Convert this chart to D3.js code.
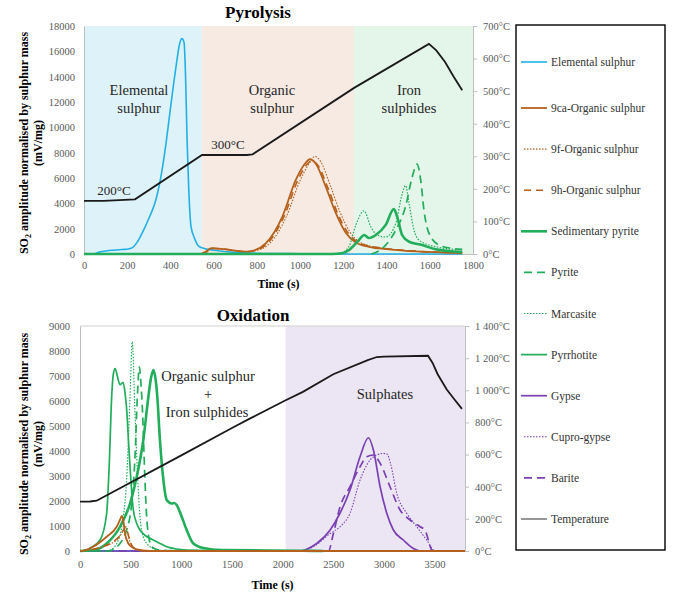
<!DOCTYPE html>
<html>
<head>
<meta charset="utf-8">
<script src="https://cdn.jsdelivr.net/npm/d3@7"></script>
<style>
  body { margin: 0; background: #fff; }
  svg text { font-family: "Liberation Serif", "Times New Roman", serif; }
</style>
</head>
<body>
<svg id="chart" width="687" height="610"></svg>
<script>
// ---- Pyrolysis data: [time (s), SO2 amplitude (mV/mg)] ----
const pyroElemental = [[0,0],[50,20],[70,150],[116,280],[176,350],[210,420],[222,480],[245,900],[269,1650],[300,2800],[333,4300],[360,6500],[380,8800],[400,11500],[416,13600],[430,15300],[440,16400],[453,17000],[463,16700],[470,14000],[477,9000],[485,5000],[495,2200],[510,1300],[532,600],[560,420],[600,300],[650,200],[700,130],[800,60],[1000,20],[1200,0],[1750,0]];
const pyro9ca = [[540,0],[560,150],[590,460],[650,380],[750,180],[780,250],[842,850],[918,2950],[980,5850],[1018,7030],[1046,7480],[1072,7150],[1119,5300],[1166,3200],[1212,1650],[1258,900],[1318,570],[1411,370],[1536,200],[1750,80]];
const pyro9f = [[545,0],[565,150],[595,450],[650,380],[750,200],[790,250],[860,850],[935,2900],[1000,5800],[1040,7100],[1069,7700],[1095,7300],[1140,5400],[1185,3300],[1230,1750],[1275,950],[1330,600],[1420,380],[1540,200],[1750,80]];
const pyro9h = [[545,0],[565,140],[592,440],[650,370],[750,190],[785,250],[850,860],[925,2950],[990,5850],[1028,7000],[1055,7350],[1082,7000],[1128,5250],[1175,3150],[1220,1700],[1265,950],[1325,620],[1415,400],[1540,220],[1750,90]];
const pyroSedPyrite = [[0,0],[1150,0],[1194,60],[1226,300],[1272,1100],[1296,1500],[1319,1260],[1350,1500],[1396,2300],[1434,3550],[1449,2950],[1472,1500],[1504,970],[1565,710],[1627,370],[1750,150]];
const pyroPyrite = [[1330,0],[1370,300],[1396,700],[1443,1900],[1488,3750],[1519,6100],[1541,7100],[1558,5840],[1573,3470],[1596,1650],[1642,710],[1700,450],[1750,370]];
const pyroMarcasite = [[1150,0],[1189,80],[1226,580],[1258,2300],[1296,3400],[1327,2150],[1357,1500],[1396,1340],[1443,2450],[1473,4800],[1488,5400],[1504,4000],[1527,1900],[1550,1100],[1627,580],[1750,320]];
// [time (s), temperature (°C)]
const pyroTemperature = [[0,163],[90,163],[236,168],[546,304],[754,304],[780,306],[1250,510],[1596,645],[1630,625],[1670,590],[1710,545],[1750,503]];

// ---- Oxidation data ----
const oxiElemental = [[0,0],[3800,0]];
const oxi9ca = [[0,0],[50,30],[130,170],[263,570],[362,970],[395,1250],[412,1400],[428,1200],[444,700],[477,300],[526,120],[600,30],[700,0],[3800,0]];
const oxi9f = [[0,0],[100,40],[200,130],[300,280],[390,560],[440,880],[455,900],[475,650],[500,300],[540,100],[600,20],[700,0],[3800,0]];
const oxi9h = [[0,0],[100,50],[200,150],[300,300],[390,600],[430,850],[452,970],[470,750],[490,450],[515,200],[560,60],[650,0],[3800,0]];
const oxiSedPyrite = [[0,0],[150,50],[263,300],[395,970],[494,1900],[560,2970],[625,4440],[675,6170],[700,6900],[724,7240],[745,6900],[763,6170],[789,4440],[823,2840],[856,2040],[905,1900],[930,1920],[954,1840],[1004,1370],[1053,840],[1119,300],[1217,120],[1400,40],[2200,10],[2400,0]];
const oxiPyrite = [[0,0],[300,0],[330,80],[395,300],[460,840],[510,1900],[543,3770],[566,6170],[586,7370],[600,6800],[618,5500],[641,2840],[658,1370],[684,440],[707,170],[760,60],[900,20],[2000,0]];
const oxiMarcasite = [[0,0],[280,0],[296,30],[362,300],[428,1370],[460,2840],[494,6170],[516,8370],[543,5500],[566,3240],[592,1370],[625,570],[691,170],[760,50],[900,0],[2000,0]];
const oxiPyrrhotite = [[0,0],[60,30],[100,120],[200,450],[263,1500],[289,3500],[313,6200],[330,7100],[347,7300],[368,7000],[395,6650],[425,6750],[445,6300],[462,5600],[480,4300],[495,3300],[526,1650],[560,1100],[592,840],[650,600],[723,440],[800,280],[856,170],[950,80],[1100,30],[2000,0]];
const oxiGypse = [[0,0],[2175,0],[2237,70],[2336,300],[2469,840],[2566,1510],[2665,2440],[2764,3770],[2847,4530],[2896,4040],[2962,2570],[3028,1510],[3093,840],[3191,440],[3291,100],[3360,0],[3780,0]];
const oxiCuproGypse = [[0,0],[2172,0],[2303,170],[2469,700],[2566,970],[2665,1510],[2764,2840],[2863,3640],[2929,3840],[2994,3900],[3030,3880],[3065,3500],[3126,2310],[3225,1510],[3324,970],[3422,440],[3505,0],[3780,0]];
const oxiBarite = [[0,0],[2452,0],[2501,700],[2567,1770],[2665,2570],[2764,3370],[2830,3770],[2896,3840],[2962,3510],[3060,2570],[3159,1640],[3258,1240],[3357,970],[3406,840],[3438,440],[3472,40],[3500,0],[3780,0]];
const oxiTemperature = [[0,307],[100,308],[165,313],[200,325],[1000,595],[1500,765],[1680,825],[2020,935],[2200,990],[2500,1100],[2840,1188],[2930,1207],[3000,1210],[3435,1215],[3480,1170],[3530,1100],[3620,1005],[3700,940],[3770,884]];

const legendLabels = ['Elemental sulphur', '9ca-Organic sulphur', '9f-Organic sulphur', '9h-Organic sulphur',
  'Sedimentary pyrite', 'Pyrite', 'Marcasite', 'Pyrrhotite', 'Gypse', 'Cupro-gypse', 'Barite', 'Temperature'];

const blue = '#22b0e3', brown = '#b5601c', green = '#21ad5a', purple = '#7a40b2';
const styles = {
  'Elemental sulphur': {color: blue, width: 1.6, dash: null},
  '9ca-Organic sulphur': {color: brown, width: 1.8, dash: null},
  '9f-Organic sulphur': {color: brown, width: 1.1, dash: '1.5,1.5'},
  '9h-Organic sulphur': {color: brown, width: 1.6, dash: '7,5'},
  'Sedimentary pyrite': {color: green, width: 2.6, dash: null},
  'Pyrite': {color: green, width: 1.7, dash: '8,5'},
  'Marcasite': {color: green, width: 1.2, dash: '1.5,1.5'},
  'Pyrrhotite': {color: green, width: 1.7, dash: null},
  'Gypse': {color: purple, width: 1.7, dash: null},
  'Cupro-gypse': {color: purple, width: 1.1, dash: '1.5,1.5'},
  'Barite': {color: purple, width: 1.7, dash: '8,5'},
  'Temperature': {color: '#1a1a1a', width: 1.8, dash: null}
};

const svg = d3.select('#chart');
const spaceFmt = d3.formatLocale({decimal: '.', thousands: ' ', grouping: [3], currency: ['', '']}).format(',');

function drawPanel(p) {
  const x = d3.scaleLinear().domain([0, p.xMax]).range([p.left, p.right]);
  const y = d3.scaleLinear().domain([0, p.yMax]).range([p.bottom, p.top]);
  const yT = d3.scaleLinear().domain([0, p.tMax]).range([p.bottom, p.top]);
  const g = svg.append('g');

  g.selectAll('rect.band').data(p.bands).join('rect')
    .attr('class', 'band')
    .attr('x', d => x(d.from)).attr('width', d => x(d.to) - x(d.from))
    .attr('y', p.top).attr('height', p.bottom - p.top)
    .attr('fill', d => d.color);

  if (p.frame) {
    g.append('line').attr('x1', p.left).attr('x2', p.right).attr('y1', p.top).attr('y2', p.top)
      .attr('stroke', '#d0d0d0');
  }

  const gy = g.append('g').attr('transform', `translate(${p.left},0)`)
    .call(d3.axisLeft(y).tickValues(d3.range(0, p.yMax + 1, p.yStep)).tickSize(0).tickPadding(p.yPad).tickFormat(d3.format('d')));
  const gx = g.append('g').attr('transform', `translate(0,${p.bottom})`)
    .call(d3.axisBottom(x).tickValues(d3.range(0, p.xLast + 1, p.xStep)).tickSize(0).tickPadding(p.xPad).tickFormat(d3.format('d')));
  const gt = g.append('g').attr('transform', `translate(${p.right},0)`)
    .call(d3.axisRight(yT).tickValues(d3.range(0, p.tMax + 1, p.tStep)).tickSizeInner(4).tickSizeOuter(0).tickPadding(6)
      .tickFormat(d => spaceFmt(d) + '°C'));
  [gy, gx, gt].forEach(a => {
    a.select('.domain').attr('stroke', '#bfbfbf');
    a.selectAll('.tick line').attr('stroke', '#bfbfbf');
    a.selectAll('.tick text').attr('fill', '#595959').style('font-size', '10.5px')
      .style('font-family', '"Liberation Serif", serif');
  });

  const line = d3.line().x(d => x(d[0])).y(d => y(d[1])).curve(d3.curveMonotoneX);
  p.series.forEach(s => {
    const st = styles[s.name];
    g.append('path').datum(s.data).attr('d', line)
      .attr('fill', 'none').attr('stroke', st.color).attr('stroke-width', st.width)
      .attr('stroke-dasharray', st.dash).attr('stroke-linejoin', 'round');
  });

  const tLine = d3.line().x(d => x(d[0])).y(d => yT(d[1]));
  const tst = styles['Temperature'];
  g.append('path').datum(p.temp).attr('d', tLine)
    .attr('fill', 'none').attr('stroke', tst.color).attr('stroke-width', tst.width);

  g.append('text').attr('x', p.titleX).attr('y', p.titleY).attr('text-anchor', 'middle')
    .style('font-size', '17px').style('font-weight', 'bold').attr('fill', '#000').text(p.title);

  g.append('text').attr('x', (p.left + p.right) / 2).attr('y', p.xLabelY).attr('text-anchor', 'middle')
    .style('font-size', '12px').style('font-weight', 'bold').attr('fill', '#000').text('Time (s)');

  const yl = g.append('text').attr('transform', `translate(28,${p.yLabelY}) rotate(-90)`)
    .attr('text-anchor', 'middle').style('font-size', '12px').style('font-weight', 'bold').attr('fill', '#000');
  yl.append('tspan').text('SO');
  yl.append('tspan').text('2').style('font-size', '8px').attr('dy', 3);
  yl.append('tspan').text(' amplitude normalised by sulphur mass').attr('dy', -3);
  g.append('text').attr('transform', `translate(42,${p.yLabelY}) rotate(-90)`)
    .attr('text-anchor', 'middle').style('font-size', '12px').style('font-weight', 'bold').attr('fill', '#000')
    .text('(mV/mg)');

  p.notes.forEach(n => {
    g.append('text').attr('x', n.x).attr('y', n.y).attr('text-anchor', 'middle')
      .style('font-size', n.size + 'px').attr('fill', '#262626').text(n.text);
  });
}

drawPanel({
  left: 84, right: 473, top: 26, bottom: 254,
  xMax: 1800, xLast: 1800, xStep: 200, yMax: 18000, yStep: 2000, tMax: 700, tStep: 100,
  yPad: 9, xPad: 8, frame: false,
  bands: [{from: 0, to: 545, color: '#def2fa'}, {from: 545, to: 1250, color: '#f6eae2'}, {from: 1250, to: 1800, color: '#e4f5ea'}],
  series: [
    {name: 'Elemental sulphur', data: pyroElemental},
    {name: '9ca-Organic sulphur', data: pyro9ca},
    {name: '9h-Organic sulphur', data: pyro9h},
    {name: '9f-Organic sulphur', data: pyro9f},
    {name: 'Marcasite', data: pyroMarcasite},
    {name: 'Pyrite', data: pyroPyrite},
    {name: 'Sedimentary pyrite', data: pyroSedPyrite}
  ],
  temp: pyroTemperature,
  title: 'Pyrolysis', titleX: 258, titleY: 18,
  xLabelY: 288, yLabelY: 143,
  notes: [
    {text: 'Elemental', x: 139, y: 95, size: 14.5}, {text: 'sulphur', x: 139, y: 113, size: 14.5},
    {text: 'Organic', x: 272, y: 95, size: 14.5}, {text: 'sulphur', x: 272, y: 113, size: 14.5},
    {text: 'Iron', x: 409, y: 95, size: 14.5}, {text: 'sulphides', x: 409, y: 113, size: 14.5},
    {text: '200°C', x: 114, y: 195, size: 13}, {text: '300°C', x: 228, y: 149, size: 13}
  ]
});

drawPanel({
  left: 80, right: 465, top: 326, bottom: 551,
  xMax: 3800, xLast: 3500, xStep: 500, yMax: 9000, yStep: 1000, tMax: 1400, tStep: 200,
  yPad: 10, xPad: 10, frame: true,
  bands: [{from: 2030, to: 3800, color: '#ece6f4'}],
  series: [
    {name: 'Elemental sulphur', data: oxiElemental},
    {name: 'Gypse', data: oxiGypse},
    {name: 'Cupro-gypse', data: oxiCuproGypse},
    {name: 'Barite', data: oxiBarite},
    {name: 'Pyrrhotite', data: oxiPyrrhotite},
    {name: 'Sedimentary pyrite', data: oxiSedPyrite},
    {name: 'Marcasite', data: oxiMarcasite},
    {name: 'Pyrite', data: oxiPyrite},
    {name: '9ca-Organic sulphur', data: oxi9ca},
    {name: '9h-Organic sulphur', data: oxi9h},
    {name: '9f-Organic sulphur', data: oxi9f}
  ],
  temp: oxiTemperature,
  title: 'Oxidation', titleX: 253, titleY: 321,
  xLabelY: 589, yLabelY: 444,
  notes: [
    {text: 'Organic sulphur', x: 208, y: 381, size: 14.5}, {text: '+', x: 208, y: 399, size: 14.5},
    {text: 'Iron sulphides', x: 207, y: 417, size: 14.5},
    {text: 'Sulphates', x: 385, y: 399, size: 14.5}
  ]
});

// legend
const legend = svg.append('g');
legend.append('rect').attr('x', 516).attr('y', 25).attr('width', 149).attr('height', 525)
  .attr('fill', '#fff').attr('stroke', '#000').attr('stroke-width', 1.4);
legendLabels.forEach((name, i) => {
  const ly = i === 0 ? 62 : 108 + (i - 1) * 41.1;
  const st = styles[name];
  legend.append('line').attr('x1', name === 'Temperature' || !st.dash ? 521 : 524).attr('x2', 547)
    .attr('y1', ly).attr('y2', ly)
    .attr('stroke', name === 'Temperature' ? '#8c8c8c' : st.color)
    .attr('stroke-width', Math.min(st.width, name === 'Sedimentary pyrite' ? 2.8 : 2))
    .attr('stroke-dasharray', st.dash);
  legend.append('text').attr('x', 551).attr('y', ly + 4).style('font-size', '11.5px')
    .attr('fill', '#333').text(name);
});
</script>
</body>
</html>
